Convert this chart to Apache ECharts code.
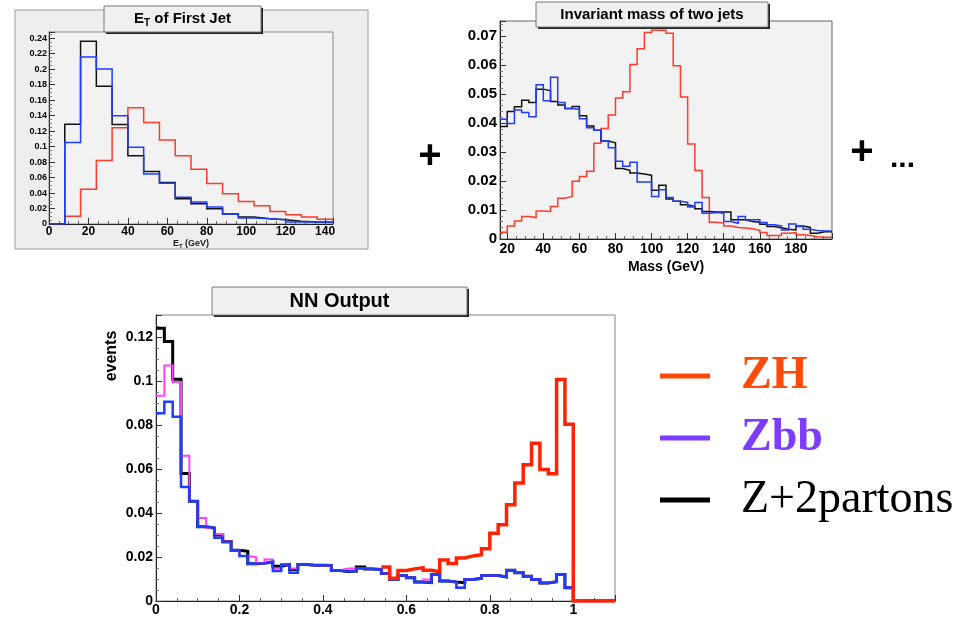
<!DOCTYPE html>
<html>
<head>
<meta charset="utf-8">
<script src="https://cdn.jsdelivr.net/npm/echarts@6/dist/echarts.min.js"></script>
<style>
html,body{margin:0;padding:0;background:#fff;}
#main{width:970px;height:617px;}
</style>
</head>
<body>
<div id="main"></div>
<script>
// ---------- Panel 1: E_T of first jet (bins of 8 GeV starting at 0) ----------
const etBinStart = 0;
const etBinWidth = 8;
const etZH  = [0,0.0099,0.045,0.0819,0.1243,0.150,0.1312,0.1084,0.0883,0.0707,0.0523,0.039,0.0291,0.0236,0.0163,0.012,0.009,0.0060];
const etZbb = [0,0.1054,0.2156,0.2002,0.1397,0.099,0.0647,0.0527,0.0347,0.0283,0.0219,0.0129,0.0077,0.0069,0.0056,0.0026,0.0026,0.0021];
const etZ2p = [0,0.129,0.236,0.178,0.1286,0.0883,0.0677,0.0536,0.0326,0.0261,0.0197,0.0129,0.009,0.0069,0.0056,0.0034,0.0026,0.0021];
const etXTicks = [0,20,40,60,80,100,120,140];
const etYTicks = [0,0.02,0.04,0.06,0.08,0.1,0.12,0.14,0.16,0.18,0.2,0.22,0.24];

// ---------- Panel 2: invariant mass of two jets (bins of 4 GeV starting at 16) ----------
const massBinStart = 16;
const massBinWidth = 4;
const massZH  = [0.0023,0.0045,0.0062,0.0078,0.0074,0.0097,0.0095,0.0112,0.0141,0.0147,
                 0.0199,0.0216,0.0234,0.0330,0.0381,0.0428,0.0486,0.0508,0.0602,0.0656,
                 0.0712,0.0720,0.0720,0.0710,0.0598,0.0490,0.0328,0.0236,0.0143,0.0058,
                 0.0055,0.0045,0.0040,0.0038,0.0035,0.0030,0.0022,0.0012,0.0012,0.0020,
                 0.0022,0.0015,0.0012,0.0008,0.0006,0.0006];
const massZbb = [0.0413,0.0398,0.0445,0.0436,0.0422,0.0532,0.0477,0.0558,0.0471,0.0450,
                 0.0448,0.0415,0.0384,0.0375,0.0338,0.0315,0.0268,0.0251,0.0265,0.0197,
                 0.0197,0.0147,0.0170,0.0143,0.0130,0.0126,0.0110,0.0126,0.0089,0.0091,
                 0.0089,0.0060,0.0054,0.0078,0.0066,0.0066,0.0057,0.0049,0.0045,0.0031,
                 0.0052,0.0043,0.0034,0.0029,0.0028,0.0028];
const massZ2p = [0.0388,0.0440,0.0456,0.0479,0.0471,0.0517,0.0511,0.0474,0.0462,0.0450,
                 0.0457,0.0425,0.0390,0.0375,0.0338,0.0332,0.0243,0.0237,0.0228,0.0224,
                 0.0220,0.0168,0.0185,0.0138,0.0130,0.0118,0.0112,0.0104,0.0095,0.0093,
                 0.0093,0.0093,0.0066,0.0066,0.0060,0.0058,0.0051,0.0043,0.0039,0.0034,
                 0.0031,0.0045,0.0040,0.0020,0.0025,0.0025];
const massXTicks = [20,40,60,80,100,120,140,160,180];
const massYTicks = [0,0.01,0.02,0.03,0.04,0.05,0.06,0.07];

// ---------- Panel 3: NN output (bins of 0.02 starting at 0) ----------
const nnBinStart = 0;
const nnBinWidth = 0.02;
const nnZH = [null,null,null,null,null,null,null,null,null,null,
              null,null,null,null,null,null,null,null,null,null,
              null,null,null,null,null,null,null,0.0154,0.0103,0.0139,
              0.0146,0.0151,0.0140,0.0133,0.0186,0.0170,0.0196,0.0205,0.0210,0.0238,
              0.0308,0.0347,0.0438,0.0536,0.0619,0.0717,0.0598,0.0578,0.1007,0.0803,
              0,0,0,0,0];
const nnZbb = [0.0853,0.0906,0.0838,0.0518,0.0453,0.0337,0.0332,0.0287,0.0267,0.0231,
               0.0204,0.0169,0.0171,0.0178,0.0136,0.0166,0.0128,0.0166,0.0163,0.0163,
               0.0162,0.0139,0.0134,0.0136,0.0148,0.0145,0.0143,0.0125,0.0098,0.0116,
               0.0106,0.0086,0.0083,0.0121,0.0091,0.0086,0.0060,0.0098,0.0103,0.0116,
               0.0116,0.0109,0.0140,0.0128,0.0113,0.0098,0.0082,0.0088,0.0121,0.0060,
               0,0,0,0,0];
const nnZbbAlt = [0.0933,0.1070,0.0995,0.0660,0.0453,0.0377,0.0332,0.0305,0.0270,0.0231,
                  0.0204,0.0199,0.0170,0.0189,0.0148,0.0166,0.0148,0.0166,0.0163,0.0163,
                  0.0162,0.0139,0.0148,0.0148,0.0148,0.0145,0.0143,0.0125,0.0098,0.0116,
                  0.0106,0.0086,0.0098,0.0121,0.0091,0.0086,0.0060,0.0098,0.0103,0.0116,
                  0.0116,0.0109,0.0140,0.0128,0.0113,0.0098,0.0082,0.0088,0.0121,0.0060,
                  0,0,0,0,0];
const nnZ2p = [0.1240,0.1180,0.1008,0.0580,0.0453,0.0337,0.0332,0.0300,0.0270,0.0231,
               0.0226,0.0169,0.0171,0.0178,0.0158,0.0166,0.0143,0.0166,0.0163,0.0163,
               0.0162,0.0139,0.0134,0.0136,0.0155,0.0145,0.0143,0.0125,0.0098,0.0116,
               0.0106,0.0086,0.0083,0.0121,0.0091,0.0086,0.0083,0.0098,0.0103,0.0116,
               0.0116,0.0109,0.0140,0.0128,0.0113,0.0098,0.0082,0.0088,0.0121,0.0060,
               0,0,0,0,0];
const nnXTicks = [0,0.2,0.4,0.6,0.8,1];
const nnYTicks = [0,0.02,0.04,0.06,0.08,0.1,0.12];

const legendNames = ['ZH','Zbb','Z+2partons'];

// ---------- helpers ----------
function histPoints(values, start, width) {
  const pts = [];
  values.forEach(function (v, i) {
    if (v === null) return;
    pts.push([start + i * width, v], [start + (i + 1) * width, v]);
  });
  return pts;
}
function tickFmt(list) {
  return function (v) {
    for (const t of list) { if (Math.abs(t - v) < 1e-9) return String(t); }
    return '';
  };
}
const SANS = '"Liberation Sans", Arial, Helvetica, sans-serif';
const SERIF = '"Liberation Serif", "Times New Roman", serif';

function xAx(gi, min, max, ticks, fontSize, margin, extra) {
  return Object.assign({
    type: 'value', gridIndex: gi, min: min, max: max,
    axisLine: { show: true, onZero: false, lineStyle: { color: '#222', width: 1 } },
    axisTick: { show: true, inside: true, length: 6, lineStyle: { color: '#333' } },
    minorTick: { show: true, splitNumber: 4, length: 3, lineStyle: { color: '#666' } },
    splitLine: { show: false },
    axisLabel: { show: true, formatter: tickFmt(ticks), color: '#000', fontSize: fontSize,
                 fontWeight: 'bold', fontFamily: SANS, margin: margin, hideOverlap: false }
  }, extra || {});
}
function yAx(gi, min, max, ticks, fontSize, margin, extra) {
  return Object.assign({
    type: 'value', gridIndex: gi, min: min, max: max,
    axisLine: { show: true, onZero: false, lineStyle: { color: '#222', width: 1 } },
    axisTick: { show: true, inside: true, length: 6, lineStyle: { color: '#333' } },
    minorTick: { show: true, splitNumber: 4, length: 3, lineStyle: { color: '#777' } },
    splitLine: { show: false },
    axisLabel: { show: true, formatter: tickFmt(ticks), color: '#000', fontSize: fontSize,
                 fontWeight: 'bold', fontFamily: SANS, margin: margin, hideOverlap: false }
  }, extra || {});
}
function histSeries(name, gi, values, start, width, color, lw) {
  return {
    name: name, type: 'line', xAxisIndex: gi, yAxisIndex: gi,
    data: histPoints(values, start, width),
    symbol: 'none', silent: true, animation: false,
    lineStyle: { color: color, width: lw, join: 'miter' },
    itemStyle: { color: color }
  };
}

const RED1 = '#ff3b2b', BLUE1 = '#1f3cff', BLACK1 = '#111111';

function titleBox(x, y, w, h, textOpt) {
  return {
    type: 'group', z: 100,
    children: [
      { type: 'rect', shape: { x: x + 2, y: y + 2, width: w, height: h }, style: { fill: '#222' } },
      { type: 'rect', shape: { x: x, y: y, width: w, height: h }, style: { fill: '#f0f0f0', stroke: '#777', lineWidth: 1 } },
      Object.assign({ type: 'text', x: x + w / 2, y: y + h / 2 }, textOpt)
    ]
  };
}

const chart = echarts.init(document.getElementById('main'), null, { renderer: 'canvas' });
chart.setOption({
  animation: false,
  backgroundColor: '#ffffff',
  grid: [
    { left: 49, top: 32, width: 284, height: 192, show: true, backgroundColor: '#f2f2f2', borderColor: '#888', borderWidth: 1 },
    { left: 500, top: 21, width: 332, height: 218, show: true, backgroundColor: '#f2f2f2', borderColor: '#666', borderWidth: 1 },
    { left: 156, top: 315, width: 459, height: 288, show: true, backgroundColor: '#ffffff', borderColor: '#888', borderWidth: 1 }
  ],
  xAxis: [
    xAx(0, 0, 144, etXTicks, 12, 2, {
      interval: 20,
      name: '{a|E}{s|T}{a| (GeV)}', nameLocation: 'middle', nameGap: 12,
      nameTextStyle: { rich: {
        a: { fontSize: 9, fontWeight: 'bold', fontFamily: SANS, color: '#222' },
        s: { fontSize: 6, fontWeight: 'bold', fontFamily: SANS, color: '#222', padding: [5, 0, 0, 0] } } }
    }),
    xAx(1, 16, 200, massXTicks, 14, 3, {
      splitNumber: 9,
      name: 'Mass (GeV)', nameLocation: 'middle', nameGap: 21,
      nameTextStyle: { fontSize: 14, fontWeight: 'bold', fontFamily: SANS, color: '#000' }
    }),
    xAx(2, 0, 1.1, nnXTicks, 14, 2, { interval: 0.2 })
  ],
  yAxis: [
    yAx(0, 0, 0.248, etYTicks, 9, 2, { interval: 0.02 }),
    yAx(1, 0, 0.0752, massYTicks, 15, 3, { interval: 0.01, minorTick: { show: true, splitNumber: 5, length: 3, lineStyle: { color: '#777' } } }),
    yAx(2, 0, 0.13, nnYTicks, 14, 3, { interval: 0.02 })
  ],
  legend: {
    orient: 'vertical', left: 655, top: 348, itemWidth: 50, itemHeight: 5, itemGap: 16,
    icon: 'rect', selectedMode: false,
    textStyle: { fontFamily: SERIF, fontSize: 46, padding: [0, 0, 0, 26] },
    data: [
      { name: legendNames[0], itemStyle: { color: '#ff4a08' }, textStyle: { color: '#ff4a08', fontWeight: 'bold' } },
      { name: legendNames[1], itemStyle: { color: '#7d3cff' }, textStyle: { color: '#7d3cff', fontWeight: 'bold' } },
      { name: legendNames[2], itemStyle: { color: '#000000' }, textStyle: { color: '#000000', fontWeight: 'normal' } }
    ]
  },
  graphic: [
    { type: 'rect', z: -10, shape: { x: 15, y: 10, width: 353, height: 239 }, style: { fill: '#eeeeee', stroke: '#9a9a9a', lineWidth: 1 } },
    titleBox(104, 6, 157, 26, { style: {
      text: '{a|E}{s|T}{a| of First Jet}', align: 'center', verticalAlign: 'middle',
      rich: { a: { fontSize: 15, fontWeight: 'bold', fontFamily: SANS, fill: '#000' },
              s: { fontSize: 10, fontWeight: 'bold', fontFamily: SANS, fill: '#000', padding: [8, 0, 0, 0] } } } }),
    titleBox(536, 2, 232, 25, { style: {
      text: 'Invariant mass of two jets', align: 'center', verticalAlign: 'middle',
      font: 'bold 15px ' + SANS, fill: '#000' } }),
    titleBox(212, 287, 255, 28, { style: {
      text: 'NN Output', align: 'center', verticalAlign: 'middle',
      font: 'bold 20px ' + SANS, fill: '#000' } }),
    { type: 'text', z: 50, x: 112, y: 356, rotation: Math.PI / 2,
      style: { text: 'events', align: 'center', verticalAlign: 'middle', font: 'bold 16px ' + SANS, fill: '#000' } },
    { type: 'text', z: 50, x: 430, y: 157,
      style: { text: '+', align: 'center', verticalAlign: 'middle', font: 'bold 40px ' + SANS, fill: '#000' } },
    { type: 'text', z: 50, x: 862, y: 153,
      style: { text: '+', align: 'center', verticalAlign: 'middle', font: 'bold 40px ' + SANS, fill: '#000' } },
    { type: 'text', z: 50, x: 890, y: 174,
      style: { text: '...', align: 'left', verticalAlign: 'bottom', font: 'bold 30px ' + SANS, fill: '#000' } }
  ],
  series: [
    // panel 1
    histSeries(legendNames[0], 0, etZH, etBinStart, etBinWidth, RED1, 1.5),
    histSeries(legendNames[2], 0, etZ2p, etBinStart, etBinWidth, BLACK1, 1.5),
    histSeries(legendNames[1], 0, etZbb, etBinStart, etBinWidth, BLUE1, 1.5),
    // panel 2
    histSeries(legendNames[0], 1, massZH, massBinStart, massBinWidth, RED1, 1.5),
    histSeries(legendNames[2], 1, massZ2p, massBinStart, massBinWidth, BLACK1, 1.5),
    histSeries(legendNames[1], 1, massZbb, massBinStart, massBinWidth, BLUE1, 1.5),
    // panel 3
    histSeries(legendNames[2], 2, nnZ2p, nnBinStart, nnBinWidth, '#000000', 3),
    histSeries('Zbb (alt)', 2, nnZbbAlt, nnBinStart, nnBinWidth, '#ff40ff', 2),
    histSeries(legendNames[1], 2, nnZbb, nnBinStart, nnBinWidth, '#1f3cff', 2.5),
    histSeries(legendNames[0], 2, nnZH, nnBinStart, nnBinWidth, '#ff2200', 3.5)
  ]
});
</script>
</body>
</html>
